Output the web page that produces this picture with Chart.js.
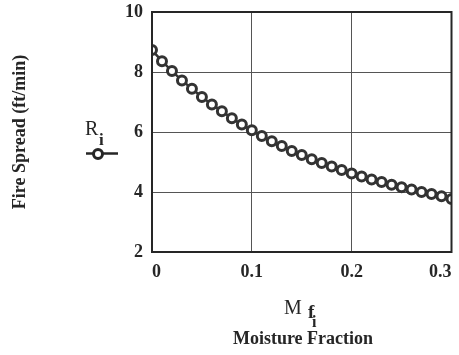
<!DOCTYPE html>
<html>
<head>
<meta charset="utf-8">
<script src="https://cdn.jsdelivr.net/npm/chart.js@4"></script>
<style>
  html, body { margin: 0; padding: 0; background: #fff; }
  #wrap { width: 459px; height: 355px; }
</style>
</head>
<body>
<div id="wrap"><canvas id="chart" width="459" height="355"></canvas></div>
<script>
// moisture fraction values (x) and fire spread (y)
const moisture = [0, 0.01, 0.02, 0.03, 0.04, 0.05, 0.06, 0.07, 0.08, 0.09,
                  0.10, 0.11, 0.12, 0.13, 0.14, 0.15, 0.16, 0.17, 0.18, 0.19,
                  0.20, 0.21, 0.22, 0.23, 0.24, 0.25, 0.26, 0.27, 0.28, 0.29, 0.30];
const spread = [8.73, 8.36, 8.03, 7.72, 7.44, 7.17, 6.92, 6.69, 6.46, 6.25,
                6.06, 5.87, 5.69, 5.53, 5.37, 5.23, 5.09, 4.97, 4.85, 4.73,
                4.62, 4.52, 4.42, 4.33, 4.24, 4.16, 4.08, 4.00, 3.93, 3.86, 3.77];
const yTicks = [2, 4, 6, 8, 10];
const xTicks = [0, 0.1, 0.2, 0.3];

const serif = '"Liberation Serif", "DejaVu Serif", serif';
const ink = '#262626';

// frame, axis titles and the little R_i legend glyph
const decorations = {
    id: 'decorations',
    afterDraw(chart) {
        const { ctx, chartArea: a } = chart;
        ctx.save();
        ctx.strokeStyle = ink;
        ctx.lineWidth = 2;
        ctx.strokeRect(a.left, a.top, a.right - a.left, a.bottom - a.top);

        ctx.fillStyle = ink;
        // y title
        ctx.save();
        ctx.translate(20, 132);
        ctx.rotate(-Math.PI / 2);
        ctx.font = 'bold 18px ' + serif;
        ctx.textAlign = 'center';
        ctx.textBaseline = 'middle';
        ctx.fillText('Fire Spread (ft/min)', 0, 0);
        ctx.restore();

        // R_i label
        ctx.textBaseline = 'alphabetic';
        ctx.textAlign = 'left';
        ctx.font = '20px ' + serif;
        ctx.fillText('R', 85, 135);
        ctx.font = 'bold 17px ' + serif;
        ctx.fillText('i', 99, 145);
        // legend glyph: line with circle
        ctx.beginPath();
        ctx.moveTo(86, 153.5);
        ctx.lineTo(118, 153.5);
        ctx.lineWidth = 2.5;
        ctx.stroke();
        ctx.beginPath();
        ctx.arc(98, 154, 4.5, 0, Math.PI * 2);
        ctx.fillStyle = '#fff';
        ctx.fill();
        ctx.lineWidth = 3;
        ctx.stroke();

        // x title
        ctx.fillStyle = ink;
        ctx.font = '20px ' + serif;
        ctx.fillText('M', 284, 314);
        ctx.font = 'bold 19px ' + serif;
        ctx.fillText('f', 308, 318);
        ctx.font = 'bold 16px ' + serif;
        ctx.fillText('i', 312, 327);
        ctx.font = 'bold 18px ' + serif;
        ctx.textAlign = 'center';
        ctx.fillText('Moisture Fraction', 303, 344);
        ctx.restore();
    }
};

new Chart(document.getElementById('chart').getContext('2d'), {
    type: 'line',
    data: {
        datasets: [{
            label: 'R_i',
            data: moisture.map((m, i) => ({ x: m, y: spread[i] })),
            borderColor: '#333',
            borderWidth: 2.5,
            pointRadius: 4.5,
            pointBorderWidth: 3,
            pointBackgroundColor: '#fff',
            pointBorderColor: '#333',
            tension: 0
        }]
    },
    options: {
        responsive: false,
        animation: false,
        devicePixelRatio: 1,
        layout: { padding: { top: 12, right: 4, left: 0, bottom: 0 } },
        plugins: { legend: { display: false }, tooltip: { enabled: false } },
        scales: {
            x: {
                type: 'linear',
                min: 0,
                max: 0.3,
                afterBuildTicks: s => { s.ticks = xTicks.map(v => ({ value: v })); },
                afterFit: s => { s.height = 103; s.paddingLeft = 0; s.paddingRight = 0; },
                grid: { color: '#555', lineWidth: 1, drawTicks: false },
                border: { display: false },
                ticks: {
                    padding: 10,
                    align: 'inner',
                    color: ink,
                    font: { family: serif, size: 18, weight: 'bold' },
                    callback: v => String(v)
                }
            },
            y: {
                min: 2,
                max: 10,
                afterBuildTicks: s => { s.ticks = yTicks.map(v => ({ value: v })); },
                afterFit: s => { s.width = 152; s.paddingTop = 0; s.paddingBottom = 0; },
                grid: { color: '#555', lineWidth: 1, drawTicks: false },
                border: { display: false },
                ticks: {
                    padding: 9,
                    color: ink,
                    font: { family: serif, size: 18, weight: 'bold' },
                    callback: v => String(v)
                }
            }
        }
    },
    plugins: [decorations]
});
</script>
</body>
</html>
